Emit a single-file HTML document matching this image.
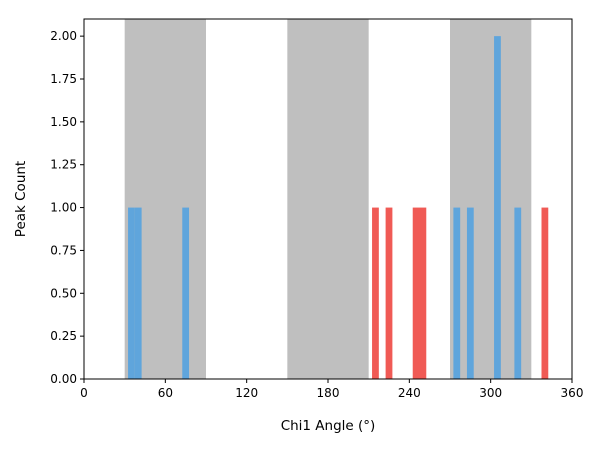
<!DOCTYPE html>
<html><head><meta charset="utf-8"><style>
body{margin:0;background:#fff;font-family:"DejaVu Sans",sans-serif}
svg text{font-family:"DejaVu Sans",sans-serif;font-size:12px;fill:#000}
svg text.title{font-size:13.5px}
</style></head><body>
<svg width="600" height="450">
<g id="plot"></g>
</svg>
<script>
const regions=[[30,90],[150,210],[270,330]];
const blueCenters=[35,40,75,275,285,305,320];
const blueCounts=[1,1,1,1,1,2,1];
const redCenters=[215,225,245,250,340];
const redCounts=[1,1,1,1,1];
const binWidth=5;
const xTicks=[0,60,120,180,240,300,360];
const yTicks=[0,0.25,0.5,0.75,1.0,1.25,1.5,1.75,2.0];
const L=84,R=572,T=19,B=379;
const xs=v=>L+(v/360)*(R-L);
const ys=v=>B-(v/2.1)*(B-T);
const g=document.getElementById('plot');
const NS='http://www.w3.org/2000/svg';
function mk(t,a){const e=document.createElementNS(NS,t);for(const k in a)e.setAttribute(k,a[k]);g.appendChild(e);return e;}
regions.forEach(r=>{const e=mk('rect',{x:xs(r[0]),y:T,width:xs(r[1])-xs(r[0]),height:B-T,fill:'#bfbfbf'});

});
function bars(c,v,col,n){c.forEach((cv,i)=>{const e=mk('rect',{x:xs(cv-binWidth/2),y:ys(v[i]),width:xs(cv+binWidth/2)-xs(cv-binWidth/2),height:B-ys(v[i]),fill:col});

});}
bars(blueCenters,blueCounts,'#5fa5dc','blue-bar');
bars(redCenters,redCounts,'#f05a55','red-bar');
const f=mk('rect',{x:L,y:T,width:R-L,height:B-T,fill:'none',stroke:'#000','stroke-width':1});


xTicks.forEach(t=>{mk('line',{x1:xs(t),x2:xs(t),y1:B,y2:B+4,stroke:'#000'});
const e=mk('text',{x:xs(t),y:B+18,'text-anchor':'middle'});e.textContent=t;

});
yTicks.forEach(t=>{mk('line',{x1:L-4,x2:L,y1:ys(t),y2:ys(t),stroke:'#000'});
const e=mk('text',{x:L-7,y:ys(t)+4,'text-anchor':'end'});e.textContent=t.toFixed(2);

});
let e=mk('text',{x:328,y:430,'text-anchor':'middle',class:'title'});e.textContent='Chi1 Angle (°)';


e=mk('text',{x:25,y:199,'text-anchor':'middle',class:'title',transform:'rotate(-90 25 199)'});e.textContent='Peak Count';


</script>
</body></html>
